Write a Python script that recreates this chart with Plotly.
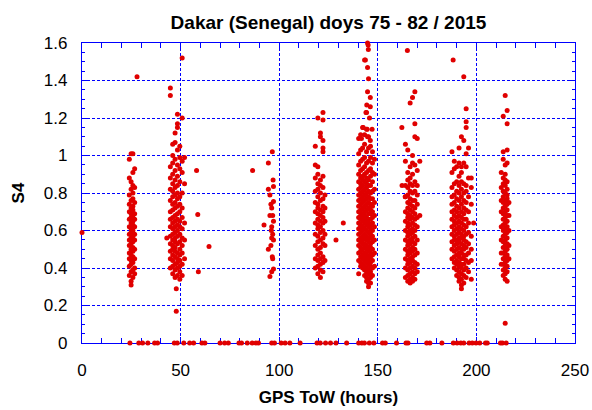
import plotly.graph_objects as go

# ---- S4 values, grouped by satellite-pass clusters ----
# each cluster: column times (hours) and the S4 values seen in each column
a_cols = [24.0, 24.9, 25.8, 26.7]
a_vals = [
    [0.36, 0.41, 0.45, 0.48, 0.52, 0.55, 0.58, 0.62, 0.66, 0.70, 0.74, 0.79, 0.88, 0.98],
    [0.31, 0.33, 0.38, 0.42, 0.44, 0.47, 0.50, 0.53, 0.56, 0.59, 0.61, 0.64, 0.67, 0.69, 0.72, 0.76, 0.82, 0.86, 1.01],
    [0.35, 0.39, 0.43, 0.46, 0.49, 0.51, 0.54, 0.57, 0.60, 0.63, 0.65, 0.68, 0.71, 0.73, 0.77, 0.80, 0.84, 0.91, 1.01],
    [0.37, 0.40, 0.45, 0.50, 0.55, 0.58, 0.62, 0.66, 0.69, 0.75, 0.83, 0.93],
]

b_cols = [44.8, 46.0, 47.2, 48.4, 49.6, 50.8, 52.0]
b_vals = [
    [0.40, 0.45, 0.49, 0.53, 0.57, 0.62, 0.66, 0.70, 0.76, 0.82, 0.88, 0.94, 1.36, 1.32],
    [0.37, 0.41, 0.44, 0.47, 0.50, 0.52, 0.55, 0.58, 0.61, 0.64, 0.67, 0.71, 0.74, 0.78, 0.81, 0.85, 0.90, 0.96, 1.00, 1.06],
    [0.35, 0.39, 0.42, 0.46, 0.49, 0.51, 0.54, 0.56, 0.59, 0.62, 0.65, 0.68, 0.72, 0.75, 0.79, 0.83, 0.87, 0.92, 0.98, 1.07, 1.12],
    [0.36, 0.40, 0.43, 0.45, 0.48, 0.53, 0.57, 0.60, 0.63, 0.66, 0.69, 0.73, 0.77, 0.80, 0.84, 0.89, 0.95, 1.03, 1.15, 1.17, 1.22],
    [0.34, 0.38, 0.41, 0.44, 0.47, 0.50, 0.54, 0.58, 0.62, 0.65, 0.70, 0.74, 0.78, 0.86, 0.93, 0.99, 1.05],
    [0.36, 0.42, 0.48, 0.52, 0.56, 0.61, 0.67, 0.72, 0.80, 0.91, 0.97, 1.20, 1.52],
    [0.45, 0.55, 0.64, 0.85, 0.99],
]

d_cols = [118.3, 119.6, 120.9, 122.2, 123.2]
d_vals = [
    [0.40, 0.45, 0.52, 0.58, 0.64, 0.70, 0.75, 0.81, 0.88, 0.95, 1.05],
    [0.37, 0.41, 0.44, 0.47, 0.50, 0.54, 0.57, 0.61, 0.63, 0.66, 0.69, 0.72, 0.74, 0.78, 0.82, 0.85, 0.90, 0.94, 1.20],
    [0.35, 0.39, 0.42, 0.45, 0.48, 0.51, 0.55, 0.59, 0.62, 0.65, 0.68, 0.71, 0.76, 0.80, 0.84, 0.87, 1.10, 1.12],
    [0.38, 0.43, 0.46, 0.53, 0.56, 0.60, 0.64, 0.67, 0.70, 0.73, 0.77, 0.83, 0.89, 1.02, 1.04, 1.08, 1.19, 1.23],
    [0.44, 0.52, 0.58, 0.65, 0.72, 0.79],
]

e_cols = [140.3, 141.3, 142.3, 143.3, 144.3, 145.3, 146.3, 147.3, 148.3]
e_vals = [
    [0.37, 0.44, 0.48, 0.52, 0.55, 0.58, 0.61, 0.64, 0.67, 0.70, 0.73, 0.76, 0.79, 0.82, 0.86, 0.90, 0.95, 1.01, 1.09],
    [0.41, 0.43, 0.46, 0.49, 0.51, 0.54, 0.56, 0.59, 0.62, 0.63, 0.66, 0.68, 0.71, 0.74, 0.77, 0.80, 0.83, 0.85, 0.88, 0.92, 0.97, 1.03, 1.11],
    [0.40, 0.42, 0.45, 0.47, 0.50, 0.53, 0.55, 0.57, 0.60, 0.62, 0.65, 0.67, 0.69, 0.72, 0.75, 0.78, 0.81, 0.84, 0.87, 0.89, 0.93, 0.98, 1.04, 1.15],
    [0.36, 0.39, 0.41, 0.44, 0.46, 0.48, 0.51, 0.53, 0.56, 0.58, 0.61, 0.64, 0.66, 0.68, 0.70, 0.73, 0.76, 0.79, 0.82, 0.86, 0.90, 0.94, 0.99, 1.06, 1.51],
    [0.33, 0.35, 0.38, 0.40, 0.43, 0.45, 0.47, 0.50, 0.52, 0.55, 0.57, 0.60, 0.63, 0.65, 0.67, 0.71, 0.74, 0.77, 0.80, 0.83, 0.85, 0.88, 0.91, 0.96, 1.02, 1.14, 1.23],
    [0.30, 0.32, 0.34, 0.37, 0.39, 0.42, 0.44, 0.46, 0.49, 0.51, 0.54, 0.56, 0.59, 0.62, 0.64, 0.66, 0.69, 0.72, 0.75, 0.78, 0.81, 0.84, 0.87, 0.92, 0.97, 1.04, 1.10],
    [0.32, 0.35, 0.38, 0.41, 0.43, 0.46, 0.48, 0.51, 0.53, 0.56, 0.58, 0.61, 0.63, 0.66, 0.69, 0.71, 0.74, 0.77, 0.80, 0.84, 0.89, 0.93, 0.99, 1.05],
    [0.36, 0.40, 0.44, 0.47, 0.50, 0.54, 0.57, 0.60, 0.64, 0.67, 0.70, 0.73, 0.77, 0.81, 0.86, 0.91, 0.96, 1.02],
    [0.41, 0.48, 0.55, 0.62, 0.68, 0.75, 0.82, 0.90, 0.98],
]

f_cols = [164.0, 165.2, 166.4, 167.6, 168.8, 170.0, 171.3]
f_vals = [
    [0.35, 0.40, 0.45, 0.50, 0.55, 0.60, 0.65, 0.70, 0.78, 0.84, 0.97, 1.06],
    [0.33, 0.36, 0.39, 0.42, 0.44, 0.47, 0.49, 0.52, 0.54, 0.57, 0.59, 0.62, 0.64, 0.67, 0.69, 0.72, 0.75, 0.79, 0.83, 0.87, 0.91, 1.03],
    [0.32, 0.34, 0.37, 0.40, 0.43, 0.45, 0.48, 0.50, 0.53, 0.55, 0.58, 0.60, 0.63, 0.66, 0.68, 0.71, 0.74, 0.77, 0.81, 0.85, 0.88, 0.94, 1.28],
    [0.33, 0.35, 0.38, 0.41, 0.44, 0.46, 0.49, 0.51, 0.54, 0.56, 0.59, 0.61, 0.64, 0.67, 0.70, 0.73, 0.76, 0.80, 0.84, 0.90, 0.96, 1.00, 1.31],
    [0.34, 0.37, 0.40, 0.43, 0.47, 0.50, 0.53, 0.57, 0.60, 0.63, 0.66, 0.69, 0.72, 0.76, 0.81, 0.86, 0.95, 1.10, 1.17, 1.34],
    [0.38, 0.42, 0.48, 0.55, 0.62, 0.67, 0.74, 0.79, 0.84, 0.92, 1.09],
    [0.68, 0.97],
]

g_cols = [187.6, 188.8, 190.0, 191.2, 192.4, 193.6, 194.8, 196.0, 197.4, 198.6]
g_vals = [
    [0.45, 0.50, 0.54, 0.58, 0.62, 0.66, 0.70, 0.74, 0.78, 0.83, 0.91, 1.02],
    [0.40, 0.43, 0.46, 0.49, 0.52, 0.55, 0.57, 0.60, 0.63, 0.65, 0.68, 0.71, 0.75, 0.79, 0.85, 0.93, 0.97],
    [0.36, 0.39, 0.42, 0.44, 0.47, 0.50, 0.53, 0.55, 0.58, 0.61, 0.64, 0.67, 0.70, 0.73, 0.77, 0.81, 0.86, 0.94],
    [0.33, 0.35, 0.38, 0.41, 0.43, 0.46, 0.48, 0.51, 0.54, 0.56, 0.59, 0.62, 0.65, 0.68, 0.72, 0.76, 0.80, 0.84, 0.89, 0.96, 1.04],
    [0.29, 0.31, 0.34, 0.37, 0.40, 0.42, 0.45, 0.48, 0.50, 0.53, 0.56, 0.58, 0.61, 0.64, 0.67, 0.70, 0.74, 0.78, 0.82, 0.86, 0.91, 0.94, 1.10],
    [0.32, 0.36, 0.39, 0.42, 0.45, 0.47, 0.50, 0.52, 0.55, 0.57, 0.60, 0.63, 0.66, 0.69, 0.72, 0.76, 0.80, 0.85, 0.96, 1.08, 1.42],
    [0.35, 0.40, 0.44, 0.47, 0.51, 0.54, 0.58, 0.62, 0.66, 0.71, 0.75, 0.81, 0.84, 0.94, 1.01, 1.15, 1.18, 1.25],
    [0.38, 0.43, 0.48, 0.53, 0.59, 0.64, 0.70, 0.78, 0.88, 1.04],
    [0.34, 0.44, 0.50, 0.57, 0.74, 0.83, 0.88],
    [0.64],
]

h_cols = [212.6, 213.6, 214.6, 215.6, 216.5]
h_vals = [
    [0.42, 0.48, 0.55, 0.62, 0.70, 0.76, 0.83, 0.91],
    [0.36, 0.39, 0.42, 0.45, 0.48, 0.51, 0.54, 0.57, 0.60, 0.63, 0.66, 0.69, 0.72, 0.75, 0.78, 0.81, 0.85, 0.88, 0.98, 1.02, 1.21],
    [0.34, 0.37, 0.40, 0.43, 0.46, 0.49, 0.52, 0.55, 0.58, 0.61, 0.64, 0.67, 0.70, 0.73, 0.76, 0.80, 0.84, 0.87, 0.90, 0.95, 1.32, 0.105],
    [0.33, 0.38, 0.41, 0.44, 0.47, 0.50, 0.53, 0.56, 0.59, 0.62, 0.65, 0.68, 0.71, 0.74, 0.77, 0.79, 0.82, 0.86, 0.96, 1.03, 1.17, 1.24],
    [0.45, 0.52, 0.60, 0.68, 0.75],
]

# sparse points (hours, S4)
extra_x = [0.0, 27.9, 43.0, 47.8, 47.8, 58.1, 58.7, 59.0, 64.4, 86.5,
           92.3, 94.5, 97.1, 95.3, 97.1, 96.2, 95.3, 96.7, 97.1, 96.2, 96.7, 96.2, 97.1, 94.5,
           96.5, 96.7, 97.1, 96.2, 95.3, 94.5, 96.5, 96.9, 95.8, 96.0, 95.8,
           128.8, 132.5,
           144.8, 145.1, 145.2, 143.7, 144.8, 145.3, 144.8, 146.2, 144.4, 146.2, 144.0, 145.8,
           142.6, 144.6, 147.1, 143.3, 144.8, 141.7, 146.2,
           162.3, 162.2, 165.0, 163.9, 188.2]
extra_y = [0.59, 1.42, 0.56, 0.29, 0.17, 0.92, 0.685, 0.38, 0.515, 0.92,
           0.63, 0.82, 0.835, 0.79, 0.755, 0.72, 0.68, 0.68, 0.65, 0.62, 0.58, 0.56, 0.55, 0.50,
           0.46, 0.45, 0.395, 0.38, 0.355, 0.96, 1.02, 0.87, 0.74, 0.60, 0.52,
           0.55, 0.64,
           1.60, 1.59, 1.565, 1.51, 1.47, 1.41, 1.34, 1.31, 1.27, 1.26, 1.23, 1.20,
           1.15, 1.14, 1.14, 1.11, 1.10, 1.09, 1.08,
           0.84, 1.15, 1.56, 0.78, 1.51]

# hours with S4 = 0
zero_x = [24.3, 28.8, 30.7, 33.4, 36.8, 38.3, 46.8, 48.3, 51.6, 54.6, 56.6, 60.8, 62.3,
          70.0, 72.3, 74.2, 79.6, 80.9, 83.8, 86.3, 88.2, 89.5, 96.2, 97.6, 101.0, 103.0,
          105.4, 110.6, 119.2, 120.8, 123.5, 126.0, 128.8, 134.2, 140.3, 141.9, 143.2,
          145.7, 148.0, 152.4, 153.8, 159.5, 164.3, 165.3, 174.8, 176.4, 182.5, 188.3,
          190.2, 192.1, 193.6, 196.3, 197.9, 199.8, 201.7, 204.6, 205.5, 212.2, 213.2, 215.1]

xs, ys = [], []
for cols, vals in [(a_cols, a_vals), (b_cols, b_vals), (d_cols, d_vals), (e_cols, e_vals),
                   (f_cols, f_vals), (g_cols, g_vals), (h_cols, h_vals)]:
    for cx, col in zip(cols, vals):
        for v in col:
            xs.append(cx)
            ys.append(v)
xs += extra_x
ys += extra_y
xs += zero_x
ys += [0.0] * len(zero_x)

BLUE = "#0000ff"
RED = "#e00000"
FONT = "Liberation Sans, Arial, sans-serif"

fig = go.Figure(go.Scatter(
    x=xs, y=ys, mode="markers",
    marker=dict(symbol="circle", size=5, color=RED, line=dict(width=0)),
    cliponaxis=False, showlegend=False, hoverinfo="skip"))

axis_common = dict(
    showline=True, linecolor=BLUE, linewidth=1.2, mirror="ticks",
    ticks="inside", tickcolor=BLUE, tickwidth=1,
    showgrid=True, gridcolor=BLUE, gridwidth=1, griddash="3px,2px",
    zeroline=False, layer="below traces", automargin=False,
    tickfont=dict(family=FONT, size=17, color="black"),
)

fig.update_xaxes(
    **axis_common, range=[0, 250], tick0=0, dtick=50, ticklen=6,
    minor=dict(dtick=10, ticks="inside", ticklen=5, tickcolor=BLUE, showgrid=False),
    ticklabelstandoff=11,
    title=dict(text="<b>GPS ToW (hours)</b>", font=dict(family=FONT, size=17, color="black"), standoff=12),
)
fig.update_yaxes(
    **axis_common, range=[0, 1.6], tick0=0, dtick=0.2, ticklen=5,
    minor=dict(dtick=0.05, ticks="inside", ticklen=3, tickcolor=BLUE, showgrid=False),
    ticklabelstandoff=10,
    title=dict(text="<b>S4</b>", font=dict(family=FONT, size=17, color="black"), standoff=14),
)

fig.update_layout(
    width=592, height=410,
    margin=dict(l=82, r=17, t=43, b=67),
    paper_bgcolor="white", plot_bgcolor="white",
    title=dict(text="<b>Dakar (Senegal) doys 75 - 82 / 2015</b>",
               font=dict(family=FONT, size=19, color="black"),
               x=0.5, xref="paper", xanchor="center",
               y=1 - 22 / 410, yref="container", yanchor="middle"),
)

fig.write_html("out.html")
